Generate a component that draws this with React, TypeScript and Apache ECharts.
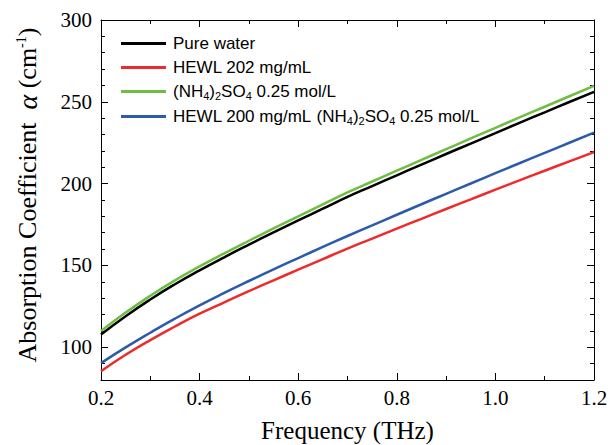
import React, { useEffect, useRef } from "react";
import * as echarts from "echarts";

const frequency = [0.2, 0.25, 0.3, 0.35, 0.4, 0.45, 0.5, 0.55, 0.6, 0.65, 0.7, 0.75, 0.8, 0.85, 0.9, 0.95, 1.0, 1.05, 1.1, 1.15, 1.2];
const pureWater = [107.8, 119.0, 129.2, 138.5, 147.0, 155.0, 162.7, 170.2, 177.5, 184.7, 191.9, 198.5, 205.1, 211.6, 218.1, 224.5, 230.9, 237.3, 243.6, 249.9, 256.1];
const hewl202 = [85.4, 95.4, 104.4, 112.7, 120.5, 127.5, 134.3, 140.9, 147.4, 153.9, 160.3, 166.4, 172.5, 178.5, 184.5, 190.4, 196.3, 202.1, 207.9, 213.6, 219.3];
const ammoniumSulfate = [109.9, 121.2, 131.5, 140.9, 149.4, 157.4, 165.1, 172.6, 180.0, 187.3, 194.6, 201.3, 207.9, 214.5, 221.1, 227.6, 234.1, 240.6, 247.0, 253.4, 259.8];
const hewl200Salt = [90.3, 99.9, 108.9, 117.5, 125.6, 133.2, 140.5, 147.6, 154.5, 161.3, 168.0, 174.5, 181.0, 187.4, 193.8, 200.1, 206.4, 212.6, 218.8, 225.0, 231.2];

const seriesNames = [
  "Pure water",
  "HEWL 202 mg/mL",
  "(NH4)2SO4 0.25 mol/L",
  "HEWL 200 mg/mL (NH4)2SO4 0.25 mol/L",
];
const seriesColors = ["#000000", "#ee2b2b", "#6fbe44", "#2b5ba9"];
const seriesValues = [pureWater, hewl202, ammoniumSulfate, hewl200Salt];

const yMajorTicks = [100, 150, 200, 250, 300];
const yMinorTicks = [90, 110, 120, 130, 140, 160, 170, 180, 190, 210, 220, 230, 240, 260, 270, 280, 290];

const serif = "Liberation Serif";
const sans = "Liberation Sans";

function fmtLegend(name: string) {
  const parts = name.split("(NH4)2SO4");
  const chem = "{n|(NH}{sub|4}{n|)}{sub|2}{n|SO}{sub|4}";
  return parts.map((p) => (p ? `{n|${p}}` : "")).join(chem);
}

export default function App() {
  const ref = useRef<HTMLDivElement>(null);
  useEffect(() => {
    if (!ref.current) return;
    const chart = echarts.init(ref.current, undefined, { renderer: "svg" });
    const tickLine = { color: "#000", width: 1 };
    const baseY = {
      type: "value",
      min: 80,
      max: 300,
      splitLine: { show: false },
    };
    chart.setOption({
      animation: false,
      backgroundColor: "#fff",
      grid: { left: 101, right: 16, top: 20, bottom: 65, outerBoundsMode: "none", containLabel: false },
      legend: {
        data: seriesNames,
        orient: "vertical",
        left: 116,
        top: 30,
        icon: "rect",
        itemWidth: 45,
        itemHeight: 3,
        itemGap: 7,
        formatter: fmtLegend,
        textStyle: {
          fontFamily: sans,
          fontSize: 17,
          color: "#000",
          padding: [0, 0, 0, 2],
          rich: {
            n: { fontFamily: sans, fontSize: 17, color: "#000" },
            sub: { fontFamily: sans, fontSize: 11, color: "#000", padding: [8, 0, 0, 0] },
          },
        },
      },
      xAxis: [
        {
          type: "value",
          min: 0.2,
          max: 1.2,
          interval: 0.2,
          position: "bottom",
          name: "Frequency (THz)",
          nameLocation: "middle",
          nameGap: 38,
          nameTextStyle: { fontFamily: serif, fontSize: 25, color: "#000" },
          axisLine: { lineStyle: tickLine },
          axisTick: { inside: true, length: 7, lineStyle: tickLine },
          minorTick: { show: true, splitNumber: 2, length: 4, lineStyle: tickLine },
          axisLabel: {
            fontFamily: serif,
            fontSize: 21,
            color: "#000",
            margin: 7,
            formatter: (v: number) => v.toFixed(1),
          },
          splitLine: { show: false },
        },
        {
          type: "value",
          min: 0.2,
          max: 1.2,
          interval: 0.2,
          position: "top",
          axisLine: { lineStyle: tickLine },
          axisTick: { inside: true, length: 7, lineStyle: tickLine },
          minorTick: { show: true, splitNumber: 2, length: 4, lineStyle: tickLine },
          axisLabel: { show: false },
          splitLine: { show: false },
        },
      ],
      yAxis: [
        {
          ...baseY,
          position: "left",
          axisLine: { show: true, lineStyle: tickLine },
          axisTick: { show: true, inside: true, length: 7, lineStyle: tickLine, customValues: yMajorTicks },
          axisLabel: {
            fontFamily: serif,
            fontSize: 21,
            color: "#000",
            margin: 9,
            customValues: yMajorTicks,
          },
        },
        {
          ...baseY,
          position: "left",
          axisLine: { show: false },
          axisTick: { show: true, inside: true, length: 4, lineStyle: tickLine, customValues: yMinorTicks },
          axisLabel: { show: false },
        },
        {
          ...baseY,
          position: "right",
          axisLine: { show: true, lineStyle: tickLine },
          axisTick: { show: true, inside: true, length: 7, lineStyle: tickLine, customValues: yMajorTicks },
          axisLabel: { show: false },
        },
        {
          ...baseY,
          position: "right",
          axisLine: { show: false },
          axisTick: { show: true, inside: true, length: 4, lineStyle: tickLine, customValues: yMinorTicks },
          axisLabel: { show: false },
        },
      ],
      graphic: [
        {
          type: "text",
          x: 27,
          y: 195,
          rotation: Math.PI / 2,
          style: {
            text: "{t|Absorption Coefficient  }{a|α}{t| (cm}{sup|-1}{t|)}",
            fontFamily: serif,
            fontSize: 26,
            fill: "#000",
            align: "center",
            verticalAlign: "middle",
            rich: {
              t: { fontFamily: serif, fontSize: 26, fill: "#000" },
              a: { fontFamily: serif, fontSize: 28, fontStyle: "italic", fill: "#000" },
              sup: { fontFamily: serif, fontSize: 14, fill: "#000", padding: [0, 0, 12, 0] },
            },
          },
        },
      ],
      series: seriesNames.map((name, i) => ({
        name,
        type: "line",
        xAxisIndex: 0,
        yAxisIndex: 0,
        smooth: true,
        symbol: "none",
        color: seriesColors[i],
        lineStyle: { color: seriesColors[i], width: 2.5 },
        data: frequency.map((f, j) => [f, seriesValues[i][j]]),
      })),
    });
    return () => chart.dispose();
  }, []);
  return (
    <div
      ref={ref}
      style={{ position: "absolute", left: 0, top: 0, width: 610, height: 445 }}
    />
  );
}
